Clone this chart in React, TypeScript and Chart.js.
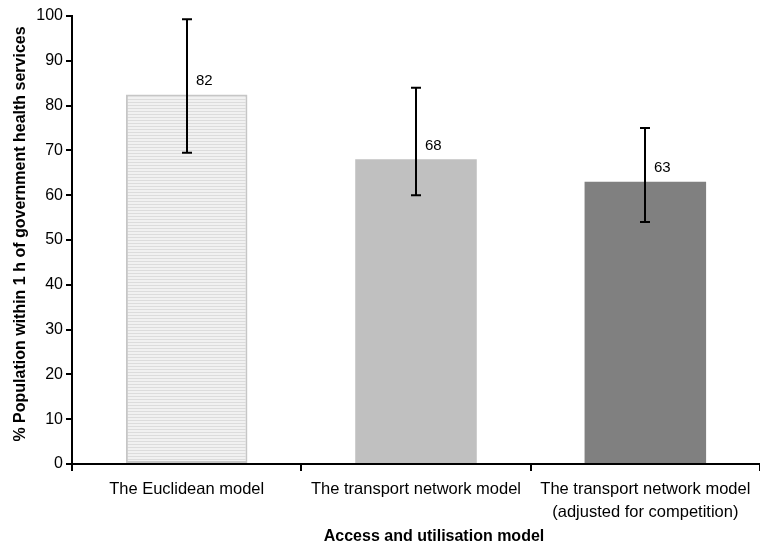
import React, { useEffect, useRef } from "react";
import { Chart, registerables } from "chart.js";

Chart.register(...registerables);

const categories: (string | string[])[] = [
  "The Euclidean model",
  "The transport network model",
  ["The transport network model", "(adjusted for competition)"],
];
const values = [82.5, 68, 63];
const valueLabels = ["82", "68", "63"];
const errorLow = [69.5, 60, 54];
const errorHigh = [99.3, 84, 75];
const yMin = 0;
const yMax = 100;
const yStep = 10;
const yTitle = "% Population within 1 h of government health services";
const xTitle = "Access and utilisation model";

const FONT = "'Liberation Sans', Arial, Helvetica, sans-serif";

function makeStripePattern(): CanvasPattern | string {
  const c = document.createElement("canvas");
  c.width = 4;
  c.height = 3;
  const g = c.getContext("2d");
  if (!g) return "#eeeeee";
  g.fillStyle = "#f1f1f1";
  g.fillRect(0, 0, 4, 3);
  g.fillStyle = "#dcdcdc";
  g.fillRect(0, 0, 4, 1);
  const p = g.createPattern(c, "repeat");
  return p || "#eeeeee";
}

export default function App() {
  const ref = useRef<HTMLCanvasElement | null>(null);

  useEffect(() => {
    document.body.style.margin = "0";
    const canvas = ref.current;
    if (!canvas) return;

    const stripe = makeStripePattern();

    const overlay = {
      id: "errorBarsAndLabels",
      afterDatasetsDraw(chart: any) {
        const ctx = chart.ctx;
        const meta = chart.getDatasetMeta(0);
        const ys = chart.scales.y;
        ctx.save();
        ctx.strokeStyle = "#000";
        ctx.lineWidth = 2;
        meta.data.forEach((bar: any, i: number) => {
          const x = Math.round(bar.x);
          const yt = ys.getPixelForValue(errorHigh[i]);
          const yb = ys.getPixelForValue(errorLow[i]);
          ctx.beginPath();
          ctx.moveTo(x, yt);
          ctx.lineTo(x, yb);
          ctx.moveTo(x - 5, yt);
          ctx.lineTo(x + 5, yt);
          ctx.moveTo(x - 5, yb);
          ctx.lineTo(x + 5, yb);
          ctx.stroke();
          ctx.fillStyle = "#000";
          ctx.font = `15px ${FONT}`;
          ctx.textAlign = "left";
          ctx.textBaseline = "middle";
          ctx.fillText(valueLabels[i], x + 9, bar.y - 14);
        });
        // axis titles
        ctx.fillStyle = "#000";
        ctx.font = `bold 16px ${FONT}`;
        ctx.textAlign = "center";
        ctx.textBaseline = "middle";
        ctx.fillText(xTitle, 434, 537);
        ctx.save();
        ctx.translate(21, 234);
        ctx.rotate(-Math.PI / 2);
        ctx.fillText(yTitle, 0, 0);
        ctx.restore();
        ctx.restore();
      },
    };

    const chart = new Chart(canvas, {
      type: "bar",
      data: {
        labels: categories as any,
        datasets: [
          {
            data: values,
            backgroundColor: [stripe as any, "#c0c0c0", "#808080"],
            borderColor: ["#c6c6c6", "#c0c0c0", "#808080"],
            borderWidth: [2, 0, 0],
            borderSkipped: false,
            categoryPercentage: 1,
            barPercentage: 0.53,
          },
        ],
      },
      options: {
        animation: false,
        responsive: false,
        maintainAspectRatio: false,
        events: [],
        layout: { padding: { top: 16, right: 0, left: 0, bottom: 0 } },
        plugins: {
          legend: { display: false },
          tooltip: { enabled: false },
          title: { display: false },
        },
        scales: {
          x: {
            grid: {
              display: true,
              drawOnChartArea: false,
              drawTicks: true,
              tickLength: 7,
              color: "#000",
              lineWidth: 2,
              offset: true,
            },
            border: { display: true, color: "#000", width: 2 },
            ticks: {
              color: "#000",
              font: { family: FONT, size: 16.5, lineHeight: 1.4 },
              padding: 7,
              maxRotation: 0,
              autoSkip: false,
            },
            afterFit(scale: any) {
              scale.height = 87;
            },
          },
          y: {
            min: yMin,
            max: yMax,
            grid: {
              display: true,
              drawOnChartArea: false,
              drawTicks: true,
              tickLength: 6,
              color: "#000",
              lineWidth: 2,
            },
            border: { display: true, color: "#000", width: 2 },
            ticks: {
              stepSize: yStep,
              color: "#000",
              font: { family: FONT, size: 16 },
              padding: 3,
            },
            afterFit(scale: any) {
              scale.width = 72;
            },
          },
        },
      },
      plugins: [overlay],
    });

    return () => chart.destroy();
  }, []);

  return (
    <div style={{ width: 760, height: 551, background: "#fff" }}>
      <canvas ref={ref} width={760} height={551} style={{ display: "block" }} />
    </div>
  );
}
